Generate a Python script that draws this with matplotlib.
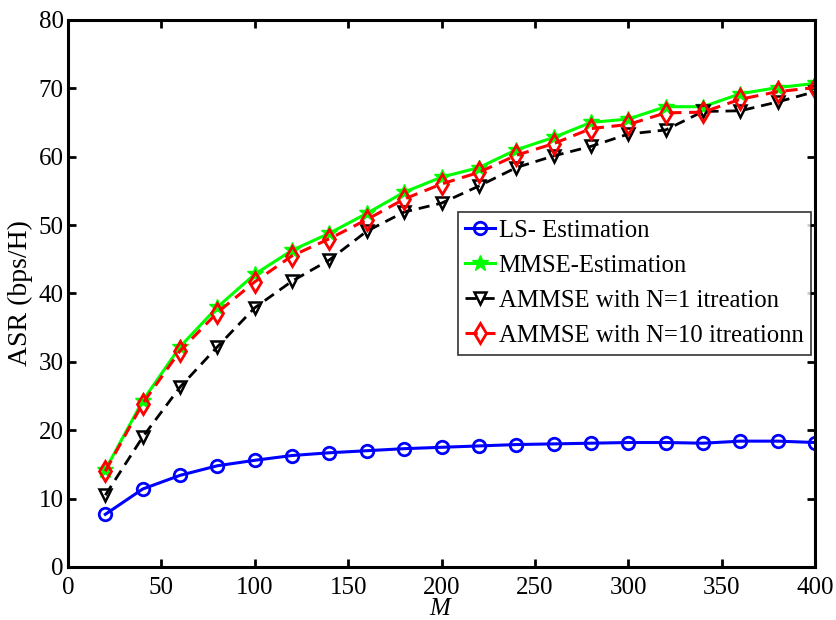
import matplotlib
matplotlib.use("Agg")
import matplotlib.pyplot as plt

M = [20, 40, 60, 80, 100, 120, 140, 160, 180, 200, 220, 240, 260, 280, 300, 320, 340, 360, 380, 400]
ls_est = [7.7, 11.4, 13.4, 14.8, 15.6, 16.3, 16.7, 17.0, 17.3, 17.5, 17.7, 17.9, 18.0, 18.1, 18.2, 18.2, 18.1, 18.4, 18.4, 18.2]
mmse_est = [14.2, 24.3, 32.2, 38.0, 42.8, 46.3, 48.8, 51.7, 54.8, 57.0, 58.4, 61.0, 62.8, 65.0, 65.5, 67.3, 67.3, 69.2, 70.1, 70.7]
ammse_n1 = [10.5, 19.0, 26.3, 32.2, 37.9, 41.8, 44.9, 49.1, 51.9, 53.2, 55.7, 58.4, 60.1, 61.5, 63.3, 63.9, 66.6, 66.7, 68.0, 69.5]
ammse_n10 = [14.0, 23.9, 31.6, 37.2, 41.7, 45.5, 48.0, 50.8, 53.8, 56.0, 57.7, 60.2, 61.9, 64.1, 64.7, 66.4, 66.5, 68.4, 69.5, 70.1]

plt.rcParams['font.family'] = ['Liberation Serif', 'DejaVu Serif']
plt.rcParams['mathtext.fontset'] = 'custom'
plt.rcParams['mathtext.it'] = 'Liberation Serif:italic'

fig = plt.figure(figsize=(8.36, 6.2), dpi=100)
ax = fig.add_axes([0.0813, 0.0855, 0.8937, 0.8825])

ax.plot(M, ls_est, color='#0000ff', lw=2.2, marker='o', ms=9, mfc='none', mew=2.0, label='LS- Estimation')
ax.plot(M, mmse_est, color='#00ff00', lw=2.2, marker='*', ms=12, mfc='#00ff00', mew=1.0, label='MMSE-Estimation')
ax.plot(M, ammse_n1, color='black', lw=2.0, ls=(0, (4, 2.5)), marker='v', ms=9, mfc='none', mew=1.8, label='AMMSE with N=1 itreation')
ax.plot(M, ammse_n10, color='#ff0000', lw=2.2, ls=(0, (4, 2.5)), marker='d', ms=10, mfc='none', mew=2.0, label='AMMSE with N=10 itreationn')

ax.set_xlim(0, 400)
ax.set_ylim(0, 80)
ax.set_xticks(range(0, 401, 50))
ax.set_yticks(range(0, 81, 10))
ax.tick_params(direction='in', length=6, width=2, labelsize=18, top=True, right=True)
ax.tick_params(axis='x', pad=7)
ax.tick_params(axis='y', pad=3)
for s in ax.spines.values():
    s.set_linewidth(2.2)

ax.set_xlabel('$M$', fontsize=18)
ax.xaxis.set_label_coords(0.5, -0.057)
ax.set_ylabel('ASR (bps/H)', fontsize=20)
ax.yaxis.set_label_coords(-0.047, 0.5)

leg = ax.legend(loc='upper left', bbox_to_anchor=(0.522, 0.649), fontsize=17.8, frameon=True,
                fancybox=False, edgecolor='black', handlelength=1.2, handletextpad=0.15,
                borderpad=0.3, labelspacing=0.52, borderaxespad=0)
leg.get_frame().set_linewidth(1.2)

fig.savefig('out.png', dpi=100)
